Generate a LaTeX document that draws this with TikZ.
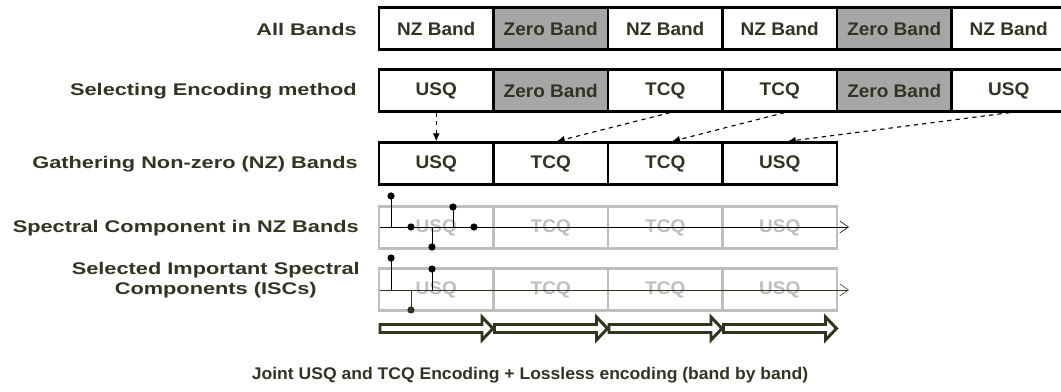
\documentclass[tikz,border=0pt]{standalone}
\usepackage{fontspec}
\setmainfont[FakeStretch=1.04]{Liberation Sans}
\newfontfamily\widefont[FakeStretch=1.29]{Liberation Sans}
\usetikzlibrary{arrows.meta}
\definecolor{olivetext}{RGB}{51,51,34}
\definecolor{zerogray}{RGB}{166,166,166}
\definecolor{ghostgray}{RGB}{190,190,190}

\begin{document}
\begin{tikzpicture}[
    x=0.025cm, y=-0.025cm,
    every node/.style={
        font=\fontsize{12}{14.5}\selectfont\bfseries,
        text=olivetext
    },
    band/.style={
        draw=black,
        line width=1.6pt,
        fill=white,
        inner sep=0pt,
        minimum width=2.8625cm,
        minimum height=1.05cm,
        font=\fontsize{13}{15}\selectfont\bfseries
    },
    zeroband/.style={band, fill=zerogray},
    ghostband/.style={band, draw=ghostgray, text=ghostgray},
    rowlabel/.style={
        anchor=east,
        align=center,
        inner sep=0pt,
        font=\widefont\fontsize{12}{14.5}\selectfont\bfseries
    },
    dot/.style={circle, fill=black, inner sep=0pt, minimum size=0.18cm},
    pick/.style={dashed, thick, -{Latex[length=2mm,width=1.8mm]}},
    axis/.style={thin, -{Straight Barb[length=2.2mm,width=3mm]}},
    stem/.style={thin},
    bigarrow/.style={draw=olivetext, fill=white, line width=2.1pt, line join=miter}
]
\useasboundingbox (0,0) rectangle (1061,392);

% =====================
% ETICHETTE
% =====================
\node[rowlabel] (lblall) at (357,29) {All Bands};
\node[rowlabel] (lblsel) at (357,91) {Selecting Encoding method};
\node[rowlabel] (lblgat) at (358,164) {Gathering Non-zero (NZ) Bands};
\node[rowlabel] (lblspec) at (359,228) {Spectral Component in NZ Bands};
\node[rowlabel] (lblisc) at (360,280) {Selected Important Spectral\\Components (ISCs)};
\node (lbljoint) at (530,375) {Joint USQ and TCQ Encoding + Lossless encoding (band by band)};

% =====================
% TUTTE LE BANDE
% =====================
\node[band] at (436.25,28.5) (a1) {NZ Band};
\node[zeroband] at (550.75,28.5) (a2) {Zero Band};
\node[band] at (665.25,28.5) (a3) {NZ Band};
\node[band] at (779.75,28.5) (a4) {NZ Band};
\node[zeroband] at (894.25,28.5) (a5) {Zero Band};
\node[band] at (1008.75,28.5) (a6) {NZ Band};

% =====================
% METODO DI CODIFICA
% =====================
\node[band] at (436.25,90.5) (m1) {USQ};
\node[zeroband] at (550.75,90.5) (m2) {Zero Band};
\node[band] at (665.25,90.5) (m3) {TCQ};
\node[band] at (779.75,90.5) (m4) {TCQ};
\node[zeroband] at (894.25,90.5) (m5) {Zero Band};
\node[band] at (1008.75,90.5) (m6) {USQ};

% =====================
% BANDE NZ RACCOLTE
% =====================
\node[band] at (436.25,163.5) (g1) {USQ};
\node[band] at (550.75,163.5) (g2) {TCQ};
\node[band] at (665.25,163.5) (g3) {TCQ};
\node[band] at (779.75,163.5) (g4) {USQ};

% m -> g
\draw[pick] (m1.south) -- (g1.north);
\draw[pick] ([xshift=0.12cm]m3.south) -- ([xshift=0.15cm]g2.north);
\draw[pick] ([xshift=0.12cm]m4.south) -- ([xshift=0.17cm]g3.north);
\draw[pick] ([xshift=0.03cm]m6.south) -- ([xshift=0.2cm]g4.north);

% =====================
% COMPONENTI SPETTRALI
% =====================
\node[ghostband] at (436.25,227.5) (c1) {USQ};
\node[ghostband] at (550.75,227.5) (c2) {TCQ};
\node[ghostband] at (665.25,227.5) (c3) {TCQ};
\node[ghostband] at (779.75,227.5) (c4) {USQ};

\coordinate (ax1s) at (380,227);
\coordinate (ax1e) at (849,227);
\draw[axis] (ax1s) -- (ax1e);

\node[dot] (p1) at (391,196) {};
\node[dot] (p2) at (411,227) {};
\node[dot] (p3) at (432,247) {};
\node[dot] (p4) at (453,207) {};
\node[dot] (p5) at (474,227) {};
\draw[stem] (p1.center) -- (p1 |- ax1s);
\draw[stem] (p3.center) -- (p3 |- ax1s);
\draw[stem] (p4.center) -- (p4 |- ax1s);

% =====================
% COMPONENTI IMPORTANTI
% =====================
\node[ghostband] at (436.25,289.5) (s1) {USQ};
\node[ghostband] at (550.75,289.5) (s2) {TCQ};
\node[ghostband] at (665.25,289.5) (s3) {TCQ};
\node[ghostband] at (779.75,289.5) (s4) {USQ};

\coordinate (ax2s) at (380,290);
\coordinate (ax2e) at (849,290);
\draw[axis, olivetext] (ax2s) -- (ax2e);

\node[dot] (q1) at (391,258) {};
\node[dot, fill=olivetext] (q2) at (411,310) {};
\node[dot] (q3) at (432,269) {};
\draw[stem] (q1.center) -- (q1 |- ax2s);
\draw[stem, olivetext] (q2.center) -- (q2 |- ax2s);
\draw[stem] (q3.center) -- (q3 |- ax2s);

% =====================
% CODIFICA BANDA PER BANDA
% =====================
\foreach \x in {380,494.5,609,723.5}
    \draw[bigarrow] (\x,324.5) -- ++(102,0) -- ++(0,-7.5) -- ++(11,11.5)
        -- ++(-11,11.5) -- ++(0,-7.5) -- ++(-102,0) -- cycle;

\end{tikzpicture}
\end{document}
